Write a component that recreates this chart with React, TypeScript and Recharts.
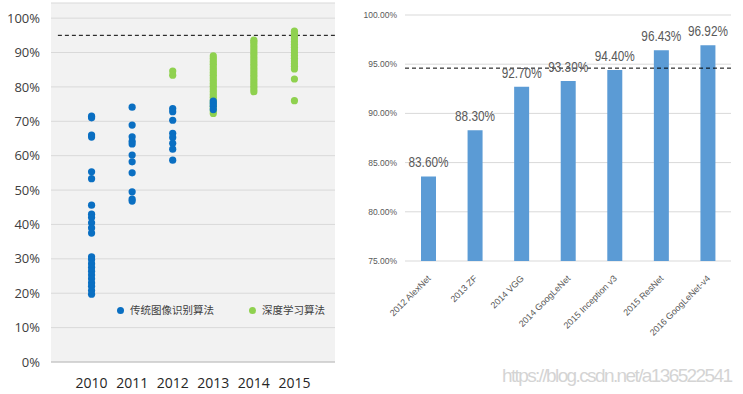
import React from "react"
import {
  ScatterChart,
  Scatter,
  BarChart,
  Bar,
  XAxis,
  YAxis,
  CartesianGrid,
  ReferenceLine,
  LabelList,
} from "recharts"

// left panel: top-5 accuracy per entry, by year
const years = [2010, 2011, 2012, 2013, 2014, 2015]
const yTicksLeft = [0, 10, 20, 30, 40, 50, 60, 70, 80, 90, 100]

const traditional2010 = [71.5, 71, 66, 65.4, 55.3, 53.3, 45.6, 43, 42, 40.5, 39, 37.5, 30.6, 29.8, 28.6, 27.5, 26.4, 25.3, 24.2, 23, 22, 20.8, 19.7]
const traditional2011 = [74.1, 68.9, 65.5, 64.2, 63.4, 60.2, 58.2, 55, 49.5, 47.4, 46.8]
const traditional2012 = [73.7, 72.8, 70.3, 66.5, 65.3, 63.6, 61.9, 58.7]
const traditional2013 = [75.9, 75.2, 74.4, 73.4]

const deep2012 = [84.6, 83.4]
const deep2013 = [89, 88.2, 87.4, 86.6, 85.8, 85, 84.2, 83.4, 82.6, 81.8, 81, 80.2, 79.4, 78.6, 77.8, 77, 76.2, 75.4, 74.6, 73.8, 73, 72.3]
const deep2014 = [93.6, 93, 92.2, 91.4, 90.6, 89.8, 89, 88.2, 87.4, 86.6, 85.8, 85, 84.2, 83.4, 82.6, 81.8, 81, 80.2, 79.4, 78.6]
const deep2015 = [96.2, 95.5, 94.7, 93.9, 93.1, 92.3, 91.5, 90.7, 89.9, 89.1, 88.3, 87.5, 86.7, 86, 85.2, 82.3, 76]

const humanLevelLeft = 95

// right panel: ImageNet models
const models = ["2012 AlexNet", "2013 ZF", "2014 VGG", "2014 GoogLeNet", "2015 Inception v3", "2015 ResNet", "2016 GoogLeNet-v4"]
const modelAccuracy = [83.6, 88.3, 92.7, 93.3, 94.4, 96.43, 96.92]
const yTicksRight = [75, 80, 85, 90, 95, 100]
const humanLevelRight = 94.6

const toPoints = (year: number, values: number[]) => values.map((y) => ({ x: year, y }))

const traditionalPoints = [
  ...toPoints(2010, traditional2010),
  ...toPoints(2011, traditional2011),
  ...toPoints(2012, traditional2012),
  ...toPoints(2013, traditional2013),
]
const deepPoints = [
  ...toPoints(2012, deep2012),
  ...toPoints(2013, deep2013),
  ...toPoints(2014, deep2014),
  ...toPoints(2015, deep2015),
]
const barData = models.map((name, i) => ({ name, value: modelAccuracy[i] }))

const BLUE = "#0a6fc2"
const GREEN = "#8fd14f"
const FONT = "'Open Sans', 'Noto Sans CJK SC', sans-serif"

const dot = (color: string) => (props: any) => (
  <circle cx={props.cx} cy={props.cy} r={3.6} fill={color} />
)

const LegendBox = () => (
  <div
    style={{
      position: "absolute",
      left: 117,
      top: 302,
      display: "flex",
      fontSize: 10.5,
      lineHeight: "16px",
      color: "#404040",
      fontFamily: "'Noto Sans CJK SC', sans-serif",
    }}
  >
    <span style={{ display: "flex", alignItems: "center", width: 132 }}>
      <span style={{ width: 7, height: 7, borderRadius: 4, background: BLUE, marginRight: 6 }} />
      传统图像识别算法
    </span>
    <span style={{ display: "flex", alignItems: "center" }}>
      <span style={{ width: 7, height: 7, borderRadius: 4, background: GREEN, marginRight: 6 }} />
      深度学习算法
    </span>
  </div>
)

const ModelTick = (props: any) => {
  const { x, y, payload } = props
  return (
    <g transform={`translate(${x + 3},${y + 10})`}>
      <text x={0} y={0} textAnchor="end" transform="rotate(-45)" fontSize={9} fill="#595959" fontFamily="'Liberation Sans', sans-serif">
        {payload.value}
      </text>
    </g>
  )
}

// value label above each bar, squeezed to the narrow width of the original
const BarValue = (props: any) => {
  const { x, y, width, value } = props
  return (
    <text
      x={x + width / 2}
      y={y - 9}
      textAnchor="middle"
      textLength={40}
      lengthAdjust="spacingAndGlyphs"
      fontSize={15}
      fill="#595959"
      fontFamily="'Liberation Sans', sans-serif"
    >
      {`${Number(value).toFixed(2)}%`}
    </text>
  )
}

export default function App() {
  return (
    <div style={{ position: "absolute", left: 0, top: 0, width: 743, height: 394, background: "#fff" }}>
      <div style={{ position: "absolute", left: 0, top: 0 }}>
        <ScatterChart width={340} height={394} margin={{ top: 3, right: 5, bottom: 0, left: 6 }}>
          <CartesianGrid horizontal vertical={false} stroke="#d9d9d9" fill="#f2f2f2" />
          <XAxis
            type="number"
            dataKey="x"
            domain={[2009, 2016]}
            ticks={years}
            tickLine={false}
            axisLine={{ stroke: "#bfbfbf" }}
            height={32}
            tickMargin={10}
            tick={{ fontSize: 14, fill: "#262626", fontFamily: FONT }}
          />
          <YAxis
            type="number"
            dataKey="y"
            domain={[0, 104.4]}
            ticks={yTicksLeft}
            tickFormatter={(v) => `${v}%`}
            axisLine={false}
            tickLine={false}
            tickSize={0}
            tickMargin={11}
            width={45}
            tick={{ fontSize: 13, fill: "#404040", fontFamily: FONT }}
          />
          <ReferenceLine
            segment={[{ x: 2009.17, y: humanLevelLeft }, { x: 2016, y: humanLevelLeft }]}
            stroke="#000"
            strokeDasharray="4 3"
          />
          <Scatter name="深度学习算法" data={deepPoints} shape={dot(GREEN)} isAnimationActive={false} />
          <Scatter name="传统图像识别算法" data={traditionalPoints} shape={dot(BLUE)} isAnimationActive={false} />
        </ScatterChart>
        <LegendBox />
      </div>
      <div style={{ position: "absolute", left: 340, top: 0 }}>
        <BarChart width={403} height={394} data={barData} margin={{ top: 15, right: 12, bottom: 0, left: 5 }}>
          <CartesianGrid vertical={false} stroke="#d9d9d9" />
          <XAxis
            dataKey="name"
            interval={0}
            tickLine={false}
            axisLine={false}
            height={133}
            tick={<ModelTick />}
          />
          <YAxis
            domain={[75, 100]}
            ticks={yTicksRight}
            tickFormatter={(v) => `${v.toFixed(2)}%`}
            axisLine={false}
            tickLine={false}
            tickSize={0}
            tickMargin={8}
            width={60}
            tick={{ fontSize: 8.5, fill: "#595959", fontFamily: "'Liberation Sans', sans-serif" }}
            allowDataOverflow
          />
          <Bar dataKey="value" fill="#5b9bd5" barSize={15} isAnimationActive={false}>
            <LabelList dataKey="value" content={<BarValue />} />
          </Bar>
          <ReferenceLine y={humanLevelRight} stroke="#000" strokeDasharray="4 3" />
        </BarChart>
      </div>
      <svg style={{ position: "absolute", left: 0, top: 0, pointerEvents: "none" }} width={743} height={394}>
        <text x={502} y={382} textLength={231} fontSize={19} fill="#d4d4d4" fontFamily="Arial, sans-serif">
          https://blog.csdn.net/a136522541
        </text>
      </svg>
    </div>
  )
}
